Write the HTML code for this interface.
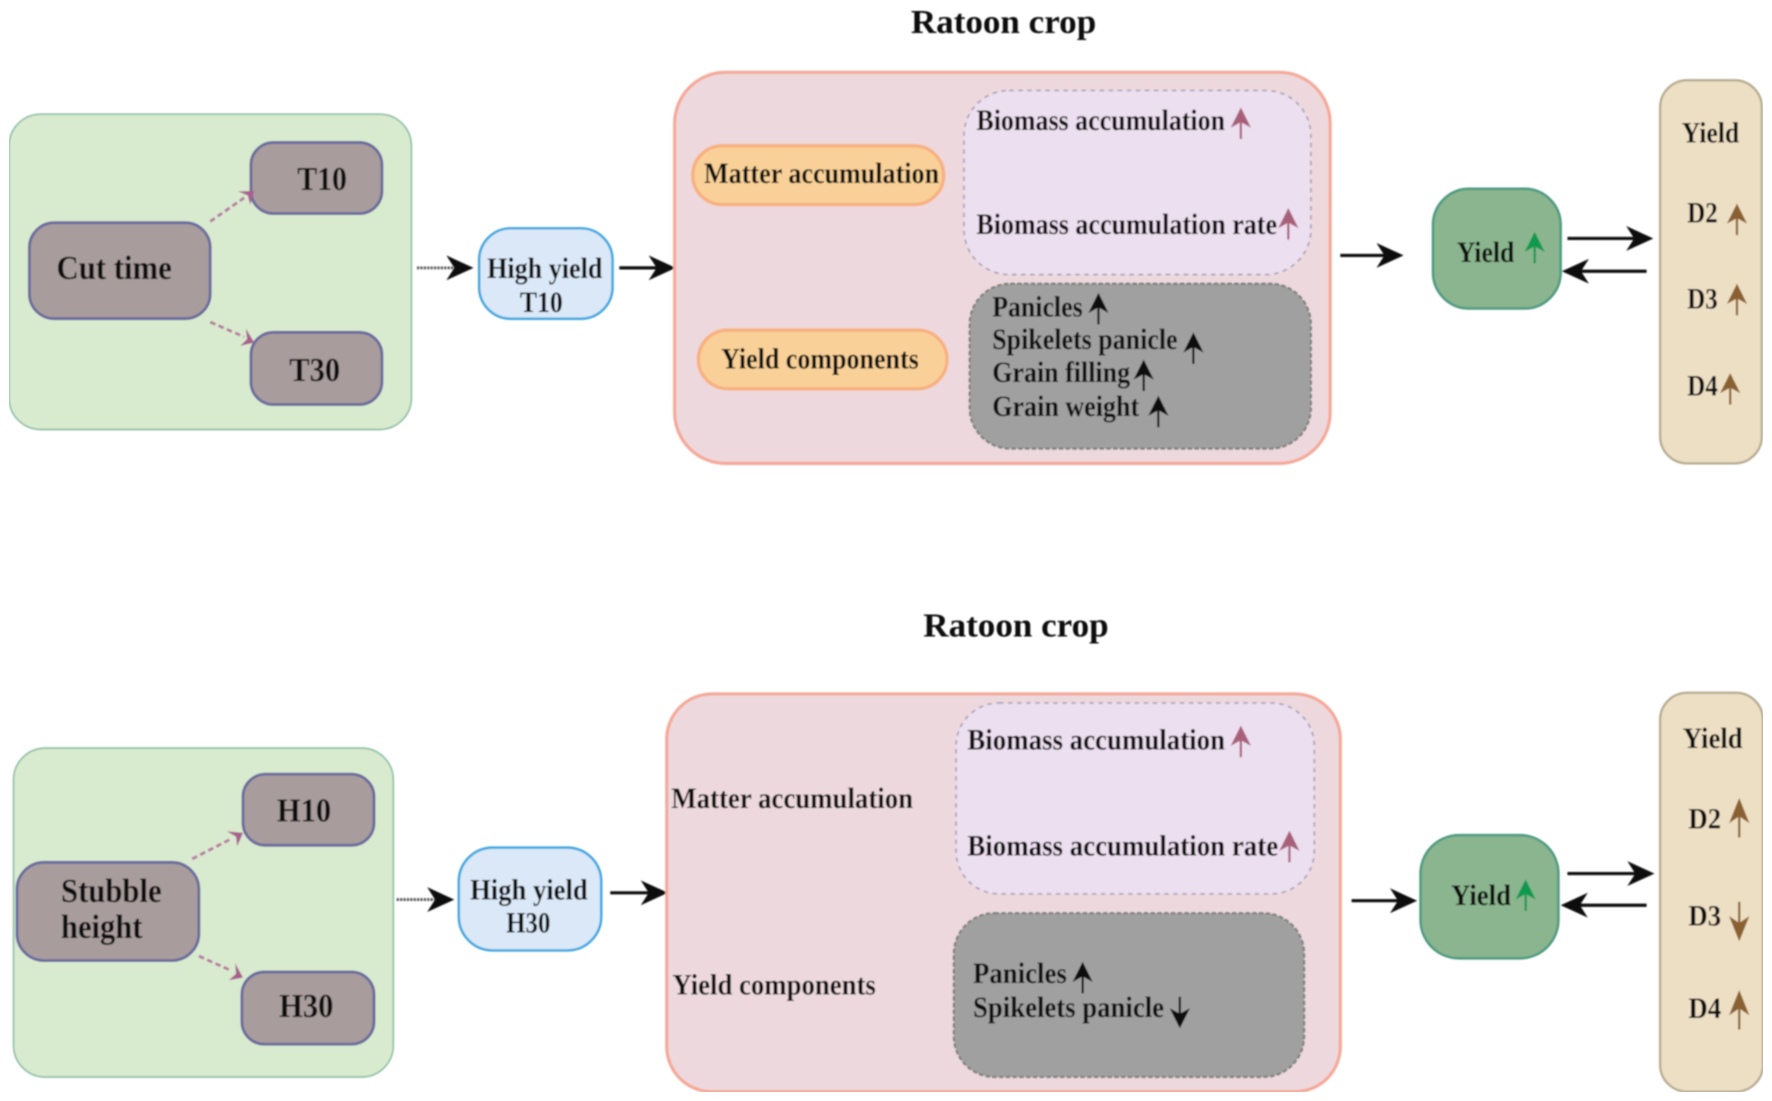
<!DOCTYPE html>
<html><head><meta charset="utf-8"><style>
html,body{margin:0;padding:0;background:#fff}
svg{display:block}
text{font-family:"Liberation Serif",serif;font-weight:700;fill:#111;font-size:26px}
.l{font-size:30px}
.g{fill:#d9ebcf;stroke:#8fbfa6;stroke-width:1.5}
.b{fill:#a89c9c;stroke:#6b6a9e;stroke-width:2.5}
.h{fill:#dae8f8;stroke:#3ea6e0;stroke-width:2.2}
.p{fill:#edd9dd;stroke:#f5a898;stroke-width:2.8}
.o{fill:#f9d198;stroke:#f8b080;stroke-width:3}
.li{fill:#ecdff0;stroke:#a9a0b8;stroke-width:1.5;stroke-dasharray:4 4}
.gr{fill:#a0a0a0;stroke:#808080;stroke-width:2;stroke-dasharray:4 2}
.y{fill:#8ab58e;stroke:#4d9a80;stroke-width:2.2}
.t{fill:#eddfc4;stroke:#b5aa90;stroke-width:2}
.k{stroke:#111;stroke-width:2.8;fill:none}
.d{stroke:#555;stroke-width:2.5;fill:none;stroke-dasharray:2 1}
.a{stroke:#b57aa0;stroke-width:2.5;fill:none;stroke-dasharray:5 3}
</style></head><body>
<svg xmlns="http://www.w3.org/2000/svg" width="1772" height="1101" viewBox="0 0 1568 974.2">
<defs>
<filter id="s" x="0" y="0" width="100%" height="100%"><feGaussianBlur stdDeviation="0.7"/></filter>
<g id="u"><path d="M-9 18L0 0L9 18L0 13Z" fill="currentColor"/><path d="M0 10V28" stroke="currentColor" stroke-width="2" fill="none"/></g>
<g id="r"><path d="M-24 -11L0 0L-24 11L-17 0Z" fill="#111"/></g>
<g id="m"><path d="M-12 -8L0 0L-10 8L-7 0Z" fill="#a8608e"/></g>
</defs>
<rect width="1568" height="974.2" fill="#fff"/>
<g filter="url(#s)">
<!-- top -->
<text class="l" x="806" y="29" textLength="164" lengthAdjust="spacingAndGlyphs">Ratoon crop</text>
<rect class="g" x="8" y="101" width="356" height="279" rx="28"/>
<rect class="b" x="26" y="197" width="160" height="85" rx="22"/>
<rect class="b" x="222" y="126" width="116" height="63" rx="20"/>
<rect class="b" x="222" y="294" width="116" height="64" rx="20"/>
<text class="l" x="50" y="247" textLength="102" lengthAdjust="spacingAndGlyphs">Cut time</text>
<text class="l" x="263" y="168" textLength="44" lengthAdjust="spacingAndGlyphs">T10</text>
<text class="l" x="256" y="337" textLength="45" lengthAdjust="spacingAndGlyphs">T30</text>
<path class="a" d="M186 196L216 175"/><use href="#m" transform="translate(225 169) rotate(-35)"/>
<path class="a" d="M186 285L216 298"/><use href="#m" transform="translate(225 303) rotate(25)"/>
<path class="d" d="M369 237H405"/><use href="#r" transform="translate(419 237)"/>
<rect class="h" x="424" y="202" width="118" height="80" rx="28"/>
<text x="431" y="246" textLength="102" lengthAdjust="spacingAndGlyphs">High yield</text>
<text x="460" y="276" textLength="38" lengthAdjust="spacingAndGlyphs">T10</text>
<path class="k" d="M548 237H585"/><use href="#r" transform="translate(598 237)"/>
<rect class="p" x="597" y="64" width="580" height="346" rx="45"/>
<rect class="o" x="613" y="129" width="222" height="52" rx="26"/>
<rect class="o" x="618" y="292" width="220" height="52" rx="26"/>
<text x="623" y="162" textLength="208" lengthAdjust="spacingAndGlyphs">Matter accumulation</text>
<text x="638" y="326" textLength="175" lengthAdjust="spacingAndGlyphs">Yield components</text>
<rect class="li" x="853" y="80" width="307" height="163" rx="40"/>
<text x="864" y="115" textLength="220" lengthAdjust="spacingAndGlyphs">Biomass accumulation</text>
<text x="864" y="207" textLength="266" lengthAdjust="spacingAndGlyphs">Biomass accumulation rate</text>
<use href="#u" x="1098" y="95" style="color:#a8607a"/>
<use href="#u" x="1140" y="184" style="color:#a8607a"/>
<rect class="gr" x="858" y="251" width="302" height="146" rx="36"/>
<text x="878" y="280" textLength="80" lengthAdjust="spacingAndGlyphs">Panicles</text>
<text x="878" y="309" textLength="164" lengthAdjust="spacingAndGlyphs">Spikelets panicle</text>
<text x="878" y="338" textLength="122" lengthAdjust="spacingAndGlyphs">Grain filling</text>
<text x="878" y="368" textLength="130" lengthAdjust="spacingAndGlyphs">Grain weight</text>
<use href="#u" x="972" y="259" style="color:#111"/>
<use href="#u" x="1056" y="294" style="color:#111"/>
<use href="#u" x="1012" y="318" style="color:#111"/>
<use href="#u" x="1025" y="350" style="color:#111"/>
<path class="k" d="M1186 226H1230"/><use href="#r" transform="translate(1242 226)"/>
<rect class="y" x="1268" y="167" width="113" height="106" rx="32"/>
<text x="1289" y="232" textLength="51" lengthAdjust="spacingAndGlyphs">Yield</text>
<use href="#u" x="1358" y="205" style="color:#0f9a4f"/>
<path class="k" d="M1387 211H1450"/><use href="#r" transform="translate(1463 211)"/>
<path class="k" d="M1457 240H1395"/><use href="#r" transform="translate(1382 240) rotate(180)"/>
<rect class="t" x="1469" y="71" width="90" height="339" rx="24"/>
<text x="1488" y="126" textLength="51" lengthAdjust="spacingAndGlyphs">Yield</text>
<text x="1493" y="197" textLength="27" lengthAdjust="spacingAndGlyphs">D2</text>
<text x="1493" y="273" textLength="27" lengthAdjust="spacingAndGlyphs">D3</text>
<text x="1493" y="350" textLength="27" lengthAdjust="spacingAndGlyphs">D4</text>
<use href="#u" x="1537" y="180" style="color:#8a6030"/>
<use href="#u" x="1537" y="251" style="color:#8a6030"/>
<use href="#u" x="1531" y="330" style="color:#8a6030"/>
<!-- bottom -->
<text class="l" x="817" y="563" textLength="164" lengthAdjust="spacingAndGlyphs">Ratoon crop</text>
<rect class="g" x="12" y="662" width="336" height="291" rx="28"/>
<rect class="b" x="15" y="763" width="161" height="87" rx="24"/>
<rect class="b" x="215" y="685" width="116" height="63" rx="20"/>
<rect class="b" x="214" y="860" width="117" height="64" rx="20"/>
<text class="l" x="54" y="798" textLength="89" lengthAdjust="spacingAndGlyphs">Stubble</text>
<text class="l" x="54" y="830" textLength="72" lengthAdjust="spacingAndGlyphs">height</text>
<text class="l" x="245" y="727" textLength="48" lengthAdjust="spacingAndGlyphs">H10</text>
<text class="l" x="247" y="900" textLength="48" lengthAdjust="spacingAndGlyphs">H30</text>
<path class="a" d="M170 760L205 742"/><use href="#m" transform="translate(215 737) rotate(-28)"/>
<path class="a" d="M176 846L205 859"/><use href="#m" transform="translate(215 865) rotate(28)"/>
<path class="d" d="M351 796H388"/><use href="#r" transform="translate(402 796)"/>
<rect class="h" x="406" y="750" width="126" height="91" rx="30"/>
<text x="416" y="796" textLength="104" lengthAdjust="spacingAndGlyphs">High yield</text>
<text x="448" y="825" textLength="39" lengthAdjust="spacingAndGlyphs">H30</text>
<path class="k" d="M540 790H578"/><use href="#r" transform="translate(591 790)"/>
<rect class="p" x="590" y="614" width="596" height="352" rx="40"/>
<text x="594" y="715" textLength="214" lengthAdjust="spacingAndGlyphs">Matter accumulation</text>
<text x="595" y="880" textLength="180" lengthAdjust="spacingAndGlyphs">Yield components</text>
<rect class="li" x="846" y="622" width="317" height="169" rx="38"/>
<text x="856" y="663" textLength="228" lengthAdjust="spacingAndGlyphs">Biomass accumulation</text>
<text x="856" y="757" textLength="275" lengthAdjust="spacingAndGlyphs">Biomass accumulation rate</text>
<use href="#u" x="1098" y="642" style="color:#a8607a"/>
<use href="#u" x="1141" y="735" style="color:#a8607a"/>
<rect class="gr" x="844" y="808" width="310" height="145" rx="36"/>
<text x="861" y="870" textLength="83" lengthAdjust="spacingAndGlyphs">Panicles</text>
<text x="861" y="900" textLength="169" lengthAdjust="spacingAndGlyphs">Spikelets panicle</text>
<use href="#u" x="958" y="851" style="color:#111"/>
<use href="#u" transform="translate(1044 910) scale(1 -1)" style="color:#111"/>
<path class="k" d="M1196 797H1241"/><use href="#r" transform="translate(1254 797)"/>
<rect class="y" x="1257" y="739" width="122" height="109" rx="34"/>
<text x="1284" y="801" textLength="53" lengthAdjust="spacingAndGlyphs">Yield</text>
<use href="#u" x="1350" y="778" style="color:#0f9a4f"/>
<path class="k" d="M1387 773H1451"/><use href="#r" transform="translate(1464 773)"/>
<path class="k" d="M1457 801H1394"/><use href="#r" transform="translate(1381 801) rotate(180)"/>
<rect class="t" x="1469" y="613" width="91" height="353" rx="24"/>
<text x="1489" y="662" textLength="53" lengthAdjust="spacingAndGlyphs">Yield</text>
<text x="1494" y="733" textLength="29" lengthAdjust="spacingAndGlyphs">D2</text>
<text x="1494" y="819" textLength="29" lengthAdjust="spacingAndGlyphs">D3</text>
<text x="1494" y="901" textLength="29" lengthAdjust="spacingAndGlyphs">D4</text>
<use href="#u" transform="translate(1539 706) scale(1 1.25)" style="color:#8a6030"/>
<use href="#u" transform="translate(1539 833) scale(1 -1.25)" style="color:#8a6030"/>
<use href="#u" transform="translate(1539 876) scale(1 1.25)" style="color:#8a6030"/>
</g>
</svg>
</body></html>
